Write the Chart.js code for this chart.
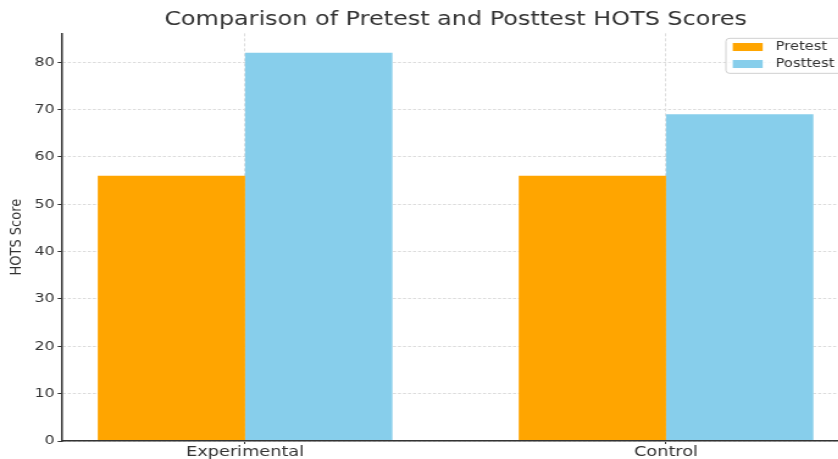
<!DOCTYPE html>
<html>
<head>
<meta charset="utf-8">
<script src="https://cdn.jsdelivr.net/npm/chart.js@4"></script>
<style>
  body { margin: 0; overflow: hidden; background: #fff; }
  #chart { display: block; transform: scaleX(1.22); transform-origin: 0 0; }
</style>
</head>
<body>
<canvas id="chart" width="700" height="459"></canvas>
<script>
// data
const categories = ['Experimental', 'Control'];
const pretest = [56, 56];
const posttest = [82, 69];
const yTicks = [0, 10, 20, 30, 40, 50, 60, 70, 80];

const textColor = '#333';
Chart.defaults.font.family = '"DejaVu Sans", sans-serif';
Chart.defaults.color = textColor;

// small boxed legend in the top right corner, like the original
const legendBox = {
    id: 'legendBox',
    afterDraw(chart) {
        const { ctx, chartArea } = chart;
        const w = 96, h = 35;
        const x0 = chartArea.right - 5 - w;
        const y0 = chartArea.top + 5;
        ctx.save();
        ctx.fillStyle = 'rgba(255,255,255,0.8)';
        ctx.strokeStyle = '#d0d0d0';
        ctx.lineWidth = 1;
        ctx.beginPath();
        ctx.roundRect(x0, y0, w, h, 3);
        ctx.fill();
        ctx.stroke();
        ctx.font = '12px "DejaVu Sans"';
        ctx.textBaseline = 'middle';
        chart.data.datasets.forEach((ds, i) => {
            const cy = y0 + 8.7 + i * 17;
            ctx.fillStyle = ds.backgroundColor;
            ctx.fillRect(x0 + 5.6, cy - 4, 24.6, 8);
            ctx.fillStyle = textColor;
            ctx.fillText(ds.label, x0 + 40.8, cy);
        });
        ctx.restore();
    }
};

const ctx = document.getElementById('chart').getContext('2d');
const chart = new Chart(ctx, {
    type: 'bar',
    data: {
        datasets: [{
            label: 'Pretest',
            data: pretest.map((v, i) => ({ x: i, y: v })),
            backgroundColor: '#FFA500',
            borderWidth: 0
        }, {
            label: 'Posttest',
            data: posttest.map((v, i) => ({ x: i, y: v })),
            backgroundColor: '#87CEEB',
            borderWidth: 0
        }]
    },
    options: {
        responsive: false,
        animation: false,
        categoryPercentage: 0.7,
        barPercentage: 1,
        layout: { padding: { right: 4 } },
        plugins: {
            legend: { display: false },
            tooltip: { enabled: false },
            title: {
                display: true,
                fullSize: false,
                text: 'Comparison of Pretest and Posttest HOTS Scores',
                color: textColor,
                font: { size: 19.6, weight: 'normal' },
                padding: { top: 8.1, bottom: 1.7 }
            }
        },
        scales: {
            x: {
                type: 'linear',
                min: -0.435,
                max: 1.435,
                offset: false,
                afterBuildTicks: scale => { scale.ticks = categories.map((c, i) => ({ value: i })); },
                afterFit: scale => { scale.height = 18; },
                ticks: {
                    callback: value => categories[value],
                    font: { size: 14.5 },
                    color: textColor,
                    padding: 0,
                    maxRotation: 0
                },
                grid: {
                    offset: false,
                    color: '#dcdcdc',
                    tickColor: textColor,
                    tickLength: 3,
                    tickBorderDash: []
                },
                border: { color: textColor, width: 1.5, dash: [3, 2], z: 1 }
            },
            y: {
                min: 0,
                max: 86.1,
                afterBuildTicks: scale => { scale.ticks = yTicks.map(v => ({ value: v })); },
                afterFit: scale => { scale.width = 50.8; },
                ticks: {
                    font: { size: 13 },
                    color: textColor,
                    padding: 2.5
                },
                grid: {
                    color: '#dcdcdc',
                    tickColor: textColor,
                    tickLength: 3.5,
                    tickBorderDash: []
                },
                border: { color: textColor, width: 1.5, dash: [2.5, 1.6], z: 1 },
                title: {
                    display: true,
                    text: 'HOTS Score',
                    color: textColor,
                    font: { size: 13 },
                    padding: { top: 5.5 }
                }
            }
        }
    },
    plugins: [legendBox]
});
</script>
</body>
</html>
